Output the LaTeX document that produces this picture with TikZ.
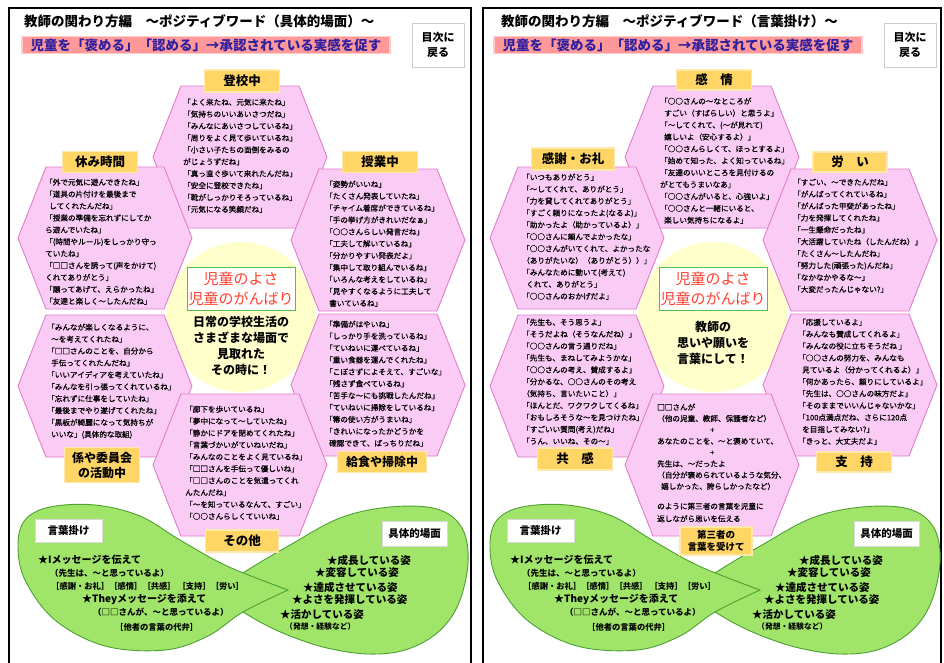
\documentclass[tikz,border=0pt]{standalone}
\usepackage{fontspec}
\setmainfont{Noto Sans CJK JP}
\newfontfamily\hexfont{Noto Sans CJK JP}[FakeBold=0.6]
\definecolor{hexfill}{RGB}{250,204,245}
\definecolor{hexline}{RGB}{225,125,205}
\definecolor{lblfill}{RGB}{255,214,102}
\definecolor{lobefill}{RGB}{160,229,105}
\definecolor{lobeline}{RGB}{78,160,50}
\definecolor{circfill}{RGB}{255,255,204}
\definecolor{barfill}{RGB}{255,152,152}
\definecolor{bartext}{RGB}{48,32,160}
\definecolor{redtext}{RGB}{255,64,48}
\definecolor{boxgreen}{RGB}{80,190,80}
\definecolor{btnline}{RGB}{205,205,205}
\tikzset{
  frame/.style={line width=2pt, draw=black},
  hexsty/.style={draw=hexline, fill=hexfill, line width=0.9pt, line join=round},
  lbl/.style={fill=lblfill, draw=lblfill!55!white, line width=1.2pt, inner sep=0pt, align=center, font=\bfseries\fontsize{12.5}{15}\selectfont},
  htxt/.style={anchor=north west, inner sep=0pt, align=left, font=\hexfont\fontsize{7.6}{11.9}\selectfont},
  lobe/.style={draw=lobeline, fill=lobefill, line width=0.9pt},
  wlbl/.style={fill=white, draw=gray!30, line width=1pt, inner sep=0pt, font=\bfseries\fontsize{10.5}{12}\selectfont},
  gstar/.style={anchor=west, inner sep=0pt, font=\bfseries\fontsize{10}{12}\selectfont},
  gpar/.style={anchor=west, inner sep=0pt, font=\bfseries\fontsize{8.5}{12}\selectfont},
  gbr/.style={anchor=west, inner sep=0pt, font=\bfseries\fontsize{8.3}{12}\selectfont},
  gright/.style={anchor=west, inner sep=0pt, font=\bfseries\fontsize{10.5}{12}\selectfont},
  gsmall/.style={anchor=west, inner sep=0pt, font=\bfseries\fontsize{7.8}{10}\selectfont},
  ttl/.style={anchor=west, inner sep=0pt, font=\bfseries\fontsize{13.5}{15}\selectfont},
  barsty/.style={fill=barfill, draw=barfill!50!white, line width=1.5pt, text=bartext, inner sep=0pt, minimum width=368pt, minimum height=17pt, font=\bfseries\fontsize{13.5}{15}\selectfont},
  btn/.style={fill=white, draw=btnline, line width=1pt, inner sep=0pt, minimum width=52pt, minimum height=44pt, align=center, font=\bfseries\fontsize{11}{15}\selectfont},
  redbox/.style={fill=white, draw=boxgreen, line width=1pt, inner sep=0pt, minimum width=108pt, minimum height=43pt, align=center, text=redtext, font=\fontsize{15}{20}\selectfont},
  ctxt/.style={inner sep=0pt, align=center, font=\bfseries\fontsize{12}{16}\selectfont},
}
\newcommand\hexat[2]{\draw[hexsty,shift={(#1,#2)}] (-87,0)--(-59,-71)--(59,-71)--(87,0)--(59,71)--(-59,71)--cycle;}
\newcommand\commonparts[1]{%
  \node[barsty] (#1bar) at (206,45) {児童を「褒める」「認める」→承認されている実感を促す};
  \node[btn] (#1btn) at (438,45) {目次に\\戻る};
  \fill[circfill] (241,317) circle (75);
  \draw[lobe] plot[smooth, tension=0.6] coordinates {(215,595) (243,573) (290,545) (340,518) (390,507) (437,509) (462,528) (468,563) (458,605) (437,633) (405,650) (368,654) (327,648) (290,636) (262,623) (243,612) (215,595)} -- cycle;
  \draw[lobe] plot[smooth, tension=0.6] coordinates {(288,590) (227,566) (180,540) (140,516) (95,505) (50,507) (25,520) (18,545) (25,580) (55,620) (105,646) (165,650) (208,636) (243,612) (288,590)} -- cycle;
  \hexat{240}{157}
  \hexat{105}{238}
  \hexat{378}{240}
  \hexat{105}{386}
  \hexat{378}{385}
  \hexat{240}{465}
  \node[redbox] (#1red) at (241,288.5) {児童のよさ\\児童のがんばり};
  \node[wlbl, minimum width=67pt, minimum height=23pt] (#1kotoba) at (68.5,530.5) {言葉掛け};
  \node[wlbl, minimum width=65pt, minimum height=25pt] (#1gutai) at (414.5,533.5) {具体的場面};
  \node[gstar] (#1g1) at (38,560) {★Iメッセージを伝えて};
  \node[gpar] (#1g2) at (50,573) {（先生は、～と思っているよ）};
  \node[gbr] (#1g3) at (51,586) {［感謝・お礼］［感情］［共感］ ［支持］［労い］};
  \node[gstar] (#1g4) at (82,599) {★Theyメッセージを添えて};
  \node[gpar] (#1g5) at (93,612) {（□□さんが、～と思っているよ）};
  \node[gbr] (#1g6) at (115,627) {［他者の言葉の代弁］};
  \node[gright] (#1s1) at (327,560) {★成長している姿};
  \node[gright] (#1s2) at (315,573) {★変容している姿};
  \node[gright] (#1s3) at (303,587) {★達成させている姿};
  \node[gright] (#1s4) at (292,600) {★よさを発揮している姿};
  \node[gright] (#1s5) at (280,614) {★活かしている姿};
  \node[gsmall] (#1s6) at (285,627) {（発想・経験など）};
}
\begin{document}
\begin{tikzpicture}[x=1pt,y=-1pt]
\useasboundingbox (0,0) rectangle (944,662);
\fill[white] (0,0) rectangle (944,662);
\draw[frame] (9,670)--(9,8)--(471,8)--(471,670);
\draw[frame] (483,670)--(483,8)--(941,8)--(941,670);
% ---------- left panel ----------
\node[ttl] (ltitle) at (24,21) {教師の関わり方編　～ポジティブワード（具体的場面）～};
\commonparts{l}
\node[lbl, minimum width=75pt, minimum height=22pt] (ltoko) at (242,81) {登校中};
\node[lbl, minimum width=75pt, minimum height=21pt] (lyasumi) at (100,162) {休み時間};
\node[lbl, minimum width=75pt, minimum height=21pt] (ljugyo) at (380,162) {授業中};
\node[lbl, minimum width=75pt, minimum height=35pt, font=\bfseries\fontsize{12}{15}\selectfont] (lkakari) at (102,465) {係や委員会\\の活動中};
\node[lbl, minimum width=89pt, minimum height=21pt, font=\bfseries\fontsize{12}{15}\selectfont] (lkyushoku) at (382,462) {給食や掃除中};
\node[lbl, minimum width=73pt, minimum height=22pt] (lsonota) at (242,541) {その他};
\node[ctxt] (lcirc) at (241,346) {日常の学校生活の\\さまざまな場面で\\見取れた\\その時に！};
\node[htxt] (lt1) at (183,98.5) {「よく来たね、元気に来たね」\\「気持ちのいいあいさつだね」\\「みんなにあいさつしているね」\\「周りをよく見て歩いているね」\\「小さい子たちの面倒をみるの\\がじょうずだね」\\「真っ直ぐ歩いて来れたんだね」\\「安全に登校できたね」\\「靴がしっかりそろっているね」\\「元気になる笑顔だね」};
\node[htxt] (lt2) at (45,178.5) {「外で元気に遊んできたね」\\「道具の片付けを最後まで\\\hspace*{4pt}してくれたんだね」\\「授業の準備を忘れずにしてか\\ら遊んでいたね」\\「(時間やルール)をしっかり守っ\\ていたね」\\「□□さんを誘って(声をかけて)\\くれてありがとう」\\「譲ってあげて、えらかったね」\\「友達と楽しく～したんだね」};
\node[htxt] (lt3) at (325,180.5) {「姿勢がいいね」\\「たくさん発表していたね」\\「チャイム着席ができているね」\\「手の挙げ方がきれいだなぁ」\\「○○さんらしい発言だね」\\「工夫して解いているね」\\「分かりやすい発表だよ」\\「集中して取り組んでいるね」\\「いろんな考えをしているね」\\「見やすくなるように工夫して\\\hspace*{4pt}書いているね」};
\node[htxt] (lt4) at (47,323.5) {「みんなが楽しくなるように、\\\hspace*{4pt}～を考えてくれたね」\\「□□さんのことを、自分から\\\hspace*{4pt}手伝ってくれたんだね」\\「いいアイディアを考えていたね」\\「みんなを引っ張ってくれているね」\\「忘れずに仕事をしていたね」\\「最後までやり遂げてくれたね」\\「黒板が綺麗になって気持ちが\\\hspace*{4pt}いいな」(具体的な取組)};
\node[htxt] (lt5) at (325,320.5) {「準備がはやいね」\\「しっかり手を洗っているね」\\「ていねいに運べているね」\\「重い食器を運んでくれたね」\\「こぼさずによそえて、すごいな」\\「残さず食べているね」\\「苦手な～にも挑戦したんだね」\\「ていねいに掃除をしているね」\\「箒の使い方がうまいね」\\「きれいになったかどうかを\\\hspace*{4pt}確認できて、ばっちりだね」};
\node[htxt] (lt6) at (185,405.5) {「廊下を歩いているね」\\「夢中になって～していたね」\\「静かにドアを閉めてくれたね」\\「言葉づかいがていねいだね」\\「みんなのことをよく見ているね」\\「□□さんを手伝って優しいね」\\「□□さんのことを気遣ってくれ\\んたんだね」\\「～を知っているなんて、すごい」\\「○○さんらしくていいね」};
% ---------- right panel ----------
\node[ttl] (rtitle) at (501,21) {教師の関わり方編　～ポジティブワード（言葉掛け）～};
\begin{scope}[xshift=472pt]
\commonparts{r}
\end{scope}
\node[lbl, minimum width=75pt, minimum height=20pt] (rkanjo) at (714,80) {感　情};
\node[lbl, minimum width=83pt, minimum height=22pt] (rkansha) at (573,159) {感謝・お礼};
\node[lbl, minimum width=74pt, minimum height=20pt] (rnegi) at (850,162) {労　い};
\node[lbl, minimum width=75pt, minimum height=22pt] (rkyokan) at (575,459) {共　感};
\node[lbl, minimum width=75pt, minimum height=20pt] (rshiji) at (854,462) {支　持};
\node[lbl, minimum width=72pt, minimum height=28pt, font=\bfseries\fontsize{9.5}{12}\selectfont] (rdaisan) at (716,541) {第三者の\\言葉を受けて};
\node[ctxt] (rcirc) at (713,343) {教師の\\思いや願いを\\言葉にして！};
\node[htxt] (rt1) at (660,97.5) {「○○さんの～なところが\\\hspace*{4pt}すごい（すばらしい）と思うよ」\\「～してくれて、(～が見れて)\\\hspace*{4pt}嬉しいよ（安心するよ）」\\「○○さんらしくて、ほっとするよ」\\「始めて知った、よく知っているね」\\「友達のいいところを見付けるの\\がとてもうまいなあ」\\「○○さんがいると、心強いよ」\\「○○さんと一緒にいると、\\\hspace*{4pt}楽しい気持ちになるよ」};
\node[htxt] (rt2) at (522,173.5) {「いつもありがとう」\\「～してくれて、ありがとう」\\「力を貸してくれてありがとう」\\「すごく頼りになったよ(なるよ)」\\「助かったよ（助かっているよ）」\\「○○さんに頼んでよかったな」\\「○○さんがいてくれて、よかったな\\（ありがたいな）（ありがとう））」\\「みんなために動いて(考えて)\\\hspace*{4pt}くれて、ありがとう」\\「○○さんのおかげだよ」};
\node[htxt] (rt3) at (793,178.5) {「すごい、～できたんだね」\\「がんばってくれているね」\\「がんばった甲斐があったね」\\「力を発揮してくれたね」\\「一生懸命だったね」\\「大活躍していたね（したんだね）」\\「たくさん～したんだね」\\「努力した(頑張った)んだね」\\「なかなかやるな～」\\「大変だったんじゃない?」};
\node[htxt] (rt4) at (522,318.5) {「先生も、そう思うよ」\\「そうだよね（そうなんだね）」\\「○○さんの言う通りだね」\\「先生も、まねしてみようかな」\\「○○さんの考え、賛成するよ」\\「分かるな、○○さんのその考え\\（気持ち、言いたいこと）」\\「ほんとだ、ワクワクしてくるね」\\「おもしろそうな～を見つけたね」\\「すごいい質問(考え)だね」\\「うん、いいね、その～」};
\node[htxt] (rt5) at (798,318.5) {「応援しているよ」\\「みんなも賛成してくれるよ」\\「みんなの役に立ちそうだね 」\\「○○さんの努力を、みんなも\\\hspace*{4pt}見ているよ（分かってくれるよ）」\\「何かあったら、頼りにしているよ」\\「先生は、○○さんの味方だよ」\\「そのままでいいんじゃないかな」\\「100点満点だね、さらに120点\\\hspace*{4pt}を目指してみない?」\\「きっと、大丈夫だよ」};
\node[htxt, font=\hexfont\fontsize{7.6}{11.3}\selectfont] (rt6) at (657,403.5) {□□さんが\\（他の児童、教師、保護者など）\\\hspace*{53pt}+\\あなたのことを、～と褒めていて、\\\hspace*{53pt}+\\先生は、～だったよ\\（自分が褒められているような気分、\\\hspace*{4pt}嬉しかった、誇らしかったなど）};
\node[htxt, font=\hexfont\fontsize{7.6}{12.5}\selectfont] (rt7) at (657,502.5) {のように第三者の言葉を児童に\\返しながら思いを伝える};
\end{tikzpicture}
\end{document}
